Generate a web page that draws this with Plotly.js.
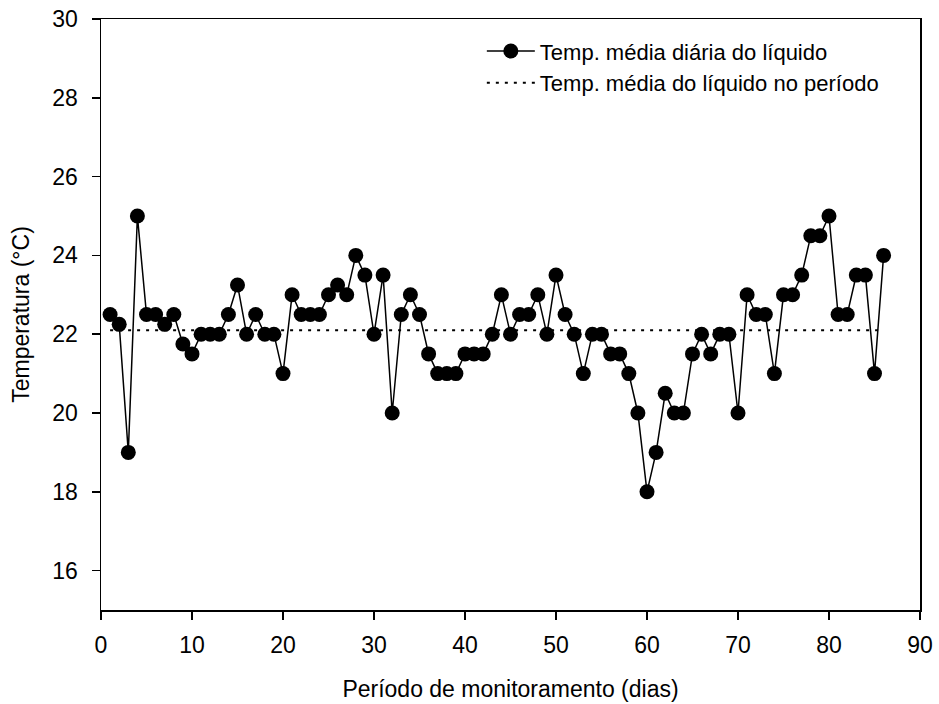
<!DOCTYPE html>
<html>
<head>
<meta charset="utf-8">
<script src="https://cdn.plot.ly/plotly-3.0.1.min.js"></script>
<style>html,body{margin:0;padding:0;background:#fff;}#chart{width:939px;height:704px;}</style>
</head>
<body>
<div id="chart"></div>
<script>
const days = [1,2,3,4,5,6,7,8,9,10,11,12,13,14,15,16,17,18,19,20,21,22,23,24,25,26,27,28,29,30,31,32,33,34,35,36,37,38,39,40,41,42,43,44,45,46,47,48,49,50,51,52,53,54,55,56,57,58,59,60,61,62,63,64,65,66,67,68,69,70,71,72,73,74,75,76,77,78,79,80,81,82,83,84,85,86];
const dailyTemp = [22.5,22.25,19,25,22.5,22.5,22.25,22.5,21.75,21.5,
  22,22,22,22.5,23.25,22,22.5,22,22,21,
  23,22.5,22.5,22.5,23,23.25,23,24,23.5,22,
  23.5,20,22.5,23,22.5,21.5,21,21,21,21.5,
  21.5,21.5,22,23,22,22.5,22.5,23,22,23.5,
  22.5,22,21,22,22,21.5,21.5,21,20,18,
  19,20.5,20,20,21.5,22,21.5,22,22,20,
  23,22.5,22.5,21,23,23,23.5,24.5,24.5,25,
  22.5,22.5,23.5,23.5,21,24];
const meanDays = [1, 86];
const meanTemp = [22.1, 22.1];
const seriesNames = ['Temp. média diária do líquido', 'Temp. média do líquido no período'];
const xTicks = [0,10,20,30,40,50,60,70,80,90];
const yTicks = [16,18,20,22,24,26,28,30];

const font = 'Liberation Sans, Arial, sans-serif';

const traces = [
  {
    x: days, y: dailyTemp, name: seriesNames[0], type: 'scatter', mode: 'lines+markers',
    line: {color: '#000', width: 1.5},
    marker: {color: '#000', size: 15}
  },
  {
    x: meanDays, y: meanTemp, name: seriesNames[1], type: 'scatter', mode: 'lines',
    line: {color: '#000', width: 2, dash: '3px,6px'}
  }
];

const layout = {
  width: 939, height: 704,
  margin: {l: 101, r: 19, t: 19, b: 94},
  paper_bgcolor: '#fff', plot_bgcolor: '#fff',
  font: {family: font, size: 22, color: '#000'},
  showlegend: true,
  legend: {
    x: 0.465, y: 0.981, xanchor: 'left', yanchor: 'top',
    bgcolor: 'rgba(0,0,0,0)', itemwidth: 48,
    font: {family: font, size: 22, color: '#000'},
    tracegroupgap: 0
  },
  xaxis: {
    range: [0, 90], tickvals: xTicks, ticktext: xTicks.map(String),
    showgrid: false, zeroline: false, showline: true, mirror: true,
    linecolor: '#000', linewidth: 1.5, ticks: 'outside', ticklen: 8, tickwidth: 1.5, tickcolor: '#000',
    ticklabelstandoff: 6,
    tickfont: {family: font, size: 23, color: '#000'},
    title: {text: 'Período de monitoramento (dias)', font: {family: font, size: 23, color: '#000'}, standoff: 24}
  },
  yaxis: {
    range: [15, 30], tickvals: yTicks, ticktext: yTicks.map(String),
    showgrid: false, zeroline: false, showline: true, mirror: true,
    linecolor: '#000', linewidth: 1.5, ticks: 'outside', ticklen: 8, tickwidth: 1.5, tickcolor: '#000',
    ticklabelstandoff: 9,
    tickfont: {family: font, size: 23, color: '#000'},
    title: {text: 'Temperatura (°C)', font: {family: font, size: 23, color: '#000'}, standoff: 16}
  }
};

Plotly.newPlot('chart', traces, layout, {displayModeBar: false, staticPlot: true});
</script>
</body>
</html>
